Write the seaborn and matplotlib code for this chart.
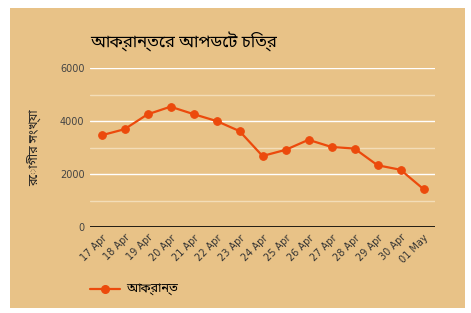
import matplotlib
matplotlib.use("Agg")
import matplotlib.pyplot as plt
import seaborn as sns
import pandas as pd
from matplotlib.patches import Rectangle
from matplotlib.lines import Line2D

dates = ["17 Apr", "18 Apr", "19 Apr", "20 Apr", "21 Apr", "22 Apr", "23 Apr", "24 Apr",
         "25 Apr", "26 Apr", "27 Apr", "28 Apr", "29 Apr", "30 Apr", "01 May"]
cases = [3460, 3690, 4250, 4540, 4260, 4000, 3620, 2680, 2910, 3290, 3020, 2960, 2330, 2160, 1430]
title = "আক্রান্তের আপডেট চিত্র"
ylabel = "রোগীর সংখ্যা"
series_name = "আক্রান্ত"

sns.set_theme(style="white")
plt.rcParams['font.family'] = ['Noto Sans Bengali', 'Noto Serif Bengali', 'Lohit Bengali',
                               'FreeSans', 'DejaVu Sans']

bg = "#E8C287"
line_c = "#EC4A0C"

fig = plt.figure(figsize=(4.71, 3.13), dpi=100)
fig.patch.set_facecolor("white")
fig.patches.append(Rectangle((10 / 471, 1 - 308 / 313), 455 / 471, 300 / 313,
                             transform=fig.transFigure, facecolor=bg, edgecolor="none", zorder=-10))

ax = fig.add_axes([90 / 471, 1 - 227 / 313, 345 / 471, 159 / 313])
ax.set_facecolor(bg)
ax.set_zorder(1)
df = pd.DataFrame({"date": dates, "cases": cases})
x = list(range(len(dates)))
df["x"] = x
sns.lineplot(data=df, x="x", y="cases", ax=ax, color=line_c, linewidth=1.6,
             marker="o", markersize=5.5, markeredgecolor=line_c, zorder=5)

ax.set_xlim(-0.5, len(dates) - 0.5)
ax.set_ylim(0, 6000)
ax.set_yticks([0, 2000, 4000, 6000])
ax.set_yticklabels(["0", "2000", "4000", "6000"], fontsize=7, color="#444444", family="DejaVu Sans")
for v in [2000, 4000, 6000]:
    ax.axhline(v, color="white", linewidth=1, zorder=1)
for v in [1000, 3000, 5000]:
    ax.axhline(v, color="#F3DDB8", linewidth=1, zorder=1)
ax.axhline(0, color="black", linewidth=1.2, zorder=2)
ax.set_xticks(x)
ax.set_xticklabels(dates, rotation=45, ha="right", rotation_mode="anchor",
                   fontsize=7, color="#333333", family="DejaVu Sans")
ax.tick_params(axis="both", length=0, pad=4)
for s in ax.spines.values():
    s.set_visible(False)
ax.set_xlabel("")
ax.set_ylabel("")

fig.text(90 / 471, 1 - 42 / 313, title, fontsize=12, fontweight="bold", color="black",
         ha="left", va="center")
fig.text(34 / 471, 1 - 148 / 313, ylabel, fontsize=9, rotation=90, color="#222222",
         ha="center", va="center")

fig.lines.append(Line2D([90 / 471, 120 / 471], [1 - 289 / 313, 1 - 289 / 313],
                        transform=fig.transFigure, color=line_c, linewidth=1.6))
fig.lines.append(Line2D([105 / 471], [1 - 289 / 313], transform=fig.transFigure,
                        color=line_c, marker="o", markersize=5.5, linestyle="none"))
fig.text(126 / 471, 1 - 289 / 313, series_name, fontsize=9, color="black", ha="left", va="center")

fig.savefig("out.png", dpi=100, facecolor="white")
